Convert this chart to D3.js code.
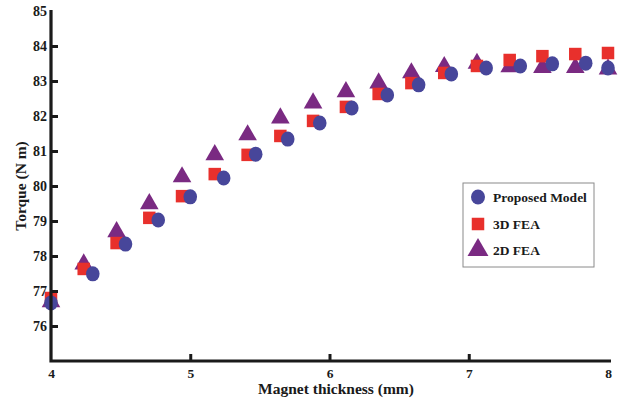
<!DOCTYPE html>
<html>
<head>
<meta charset="utf-8">
<script src="https://cdn.jsdelivr.net/npm/d3@7"></script>
<style>
  html, body { margin: 0; padding: 0; background: #fff; }
  svg { display: block; }
  text { font-family: "Liberation Serif", "Times New Roman", serif; font-weight: bold; fill: #1a1a1a; }
</style>
</head>
<body>
<script>
// Magnet thickness (mm) sampled for the FEA runs
const thicknessFEA = [4.000, 4.235, 4.471, 4.706, 4.941, 5.176, 5.412, 5.647, 5.882,
                      6.118, 6.353, 6.588, 6.824, 7.059, 7.294, 7.529, 7.765, 8.000];
// Magnet thickness (mm) for the analytical model
const thicknessModel = [4.000, 4.300, 4.535, 4.770, 5.000, 5.240, 5.470, 5.700, 5.930,
                        6.160, 6.415, 6.640, 6.875, 7.125, 7.370, 7.600, 7.840, 8.000];

// Torque (N m)
const torqueModel = [76.66, 77.49, 78.34, 79.03, 79.69, 80.23, 80.91, 81.34, 81.80,
                     82.23, 82.60, 82.89, 83.20, 83.37, 83.43, 83.49, 83.51, 83.37];
const torque3D = [76.80, 77.63, 78.37, 79.09, 79.71, 80.34, 80.89, 81.43, 81.86,
                  82.26, 82.63, 82.94, 83.23, 83.43, 83.60, 83.71, 83.77, 83.80];
const torque2D = [76.69, 77.77, 78.69, 79.49, 80.26, 80.89, 81.46, 81.94, 82.37,
                  82.69, 82.94, 83.23, 83.41, 83.50, 83.40, 83.38, 83.38, 83.34];

const xTicks = [4, 5, 6, 7, 8];
const yTicks = [76, 77, 78, 79, 80, 81, 82, 83, 84, 85];
const seriesNames = ["Proposed Model", "3D FEA", "2D FEA"];
const seriesColors = ["#47469a", "#e8302c", "#7a2a82"];

const W = 618, H = 400;
const svg = d3.select("body").append("svg").attr("width", W).attr("height", H);

const x = d3.scaleLinear().domain([4, 8]).range([51, 608]);
const y = d3.scaleLinear().domain([75, 85]).range([361, 11]);

// markers: triangles underneath, then squares, circles on top
const tri = d3.symbol().type(d3.symbolTriangle).size(150);
svg.append("g").selectAll("path")
  .data(torque2D.map((v, i) => [thicknessFEA[i], v]))
  .join("path")
  .attr("d", tri)
  .attr("transform", d => `translate(${x(d[0])},${y(d[1])})`)
  .attr("fill", seriesColors[2]);

const sq = 12.5;
svg.append("g").selectAll("rect")
  .data(torque3D.map((v, i) => [thicknessFEA[i], v]))
  .join("rect")
  .attr("x", d => x(d[0]) - sq / 2)
  .attr("y", d => y(d[1]) - sq / 2)
  .attr("width", sq).attr("height", sq)
  .attr("fill", seriesColors[1]);

svg.append("g").selectAll("ellipse")
  .data(torqueModel.map((v, i) => [thicknessModel[i], v]))
  .join("ellipse")
  .attr("cx", d => x(d[0]))
  .attr("cy", d => y(d[1]))
  .attr("rx", 6.8).attr("ry", 7.5)
  .attr("fill", seriesColors[0]);

// axes
const yAxis = d3.axisLeft(y).tickValues(yTicks).tickFormat(d3.format("d"))
  .tickSizeInner(-7).tickSizeOuter(0).tickPadding(4);
const gy = svg.append("g").attr("transform", `translate(${x(4)},0)`).call(yAxis);
gy.select(".domain").remove();
gy.selectAll(".tick line").attr("stroke", "#1a1a1a").attr("stroke-width", 3)
  .filter(d => d === 85).remove();
gy.selectAll(".tick text").attr("font-size", 14).style("font-family", "Liberation Serif").style("font-weight", "bold");

const xAxis = d3.axisBottom(x).tickValues(xTicks).tickFormat(d3.format("d"))
  .tickSizeInner(-7).tickSizeOuter(0).tickPadding(7);
const gx = svg.append("g").attr("transform", `translate(0,${y(75)})`).call(xAxis);
gx.select(".domain").remove();
gx.selectAll(".tick line").attr("stroke", "#1a1a1a").attr("stroke-width", 3)
  .filter(d => d === 4 || d === 8).remove();
gx.selectAll(".tick text").attr("font-size", 13.5).style("font-family", "Liberation Serif").style("font-weight", "bold");

// axis lines
svg.append("path")
  .attr("d", `M${x(4)},${y(85) - 1}V${y(75)}H${x(8) + 3}`)
  .attr("fill", "none").attr("stroke", "#1a1a1a").attr("stroke-width", 3.2);

// titles
svg.append("text")
  .attr("x", 336).attr("y", 394)
  .attr("text-anchor", "middle").attr("font-size", 15.5)
  .text("Magnet thickness (mm)");
svg.append("text")
  .attr("transform", `translate(26,${186}) rotate(-90)`)
  .attr("text-anchor", "middle").attr("font-size", 15.5)
  .text("Torque (N m)");

// legend
const lg = svg.append("g").attr("transform", "translate(463,183)");
lg.append("rect").attr("width", 131).attr("height", 84)
  .attr("fill", "#fff").attr("stroke", "#8a8a8a").attr("stroke-width", 1);
const rows = [14, 41, 67];
lg.append("ellipse").attr("cx", 15).attr("cy", rows[0]).attr("rx", 7).attr("ry", 7.5).attr("fill", seriesColors[0]);
lg.append("rect").attr("x", 15 - sq / 2).attr("y", rows[1] - sq / 2).attr("width", sq).attr("height", sq).attr("fill", seriesColors[1]);
lg.append("path").attr("d", d3.symbol().type(d3.symbolTriangle).size(190)).attr("transform", `translate(15,${rows[2]})`).attr("fill", seriesColors[2]);
seriesNames.forEach((n, i) => {
  lg.append("text").attr("x", 30).attr("y", rows[i]).attr("dy", "0.35em")
    .attr("font-size", 13.5).text(n);
});
</script>
</body>
</html>
